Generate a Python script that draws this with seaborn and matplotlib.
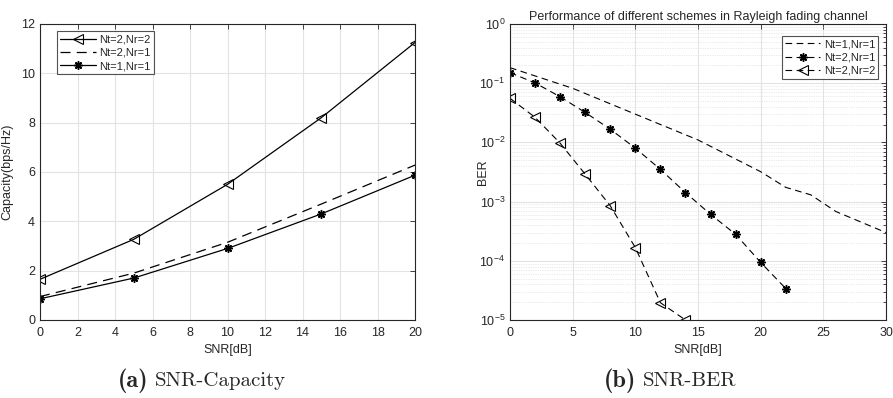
import numpy as np
import pandas as pd
import matplotlib
matplotlib.use("Agg")
import matplotlib.pyplot as plt
import seaborn as sns

# capacity data (left panel)
snr_cap = [0, 5, 10, 15, 20]
cap_22 = [1.65, 3.27, 5.50, 8.20, 11.25]
cap_21 = [0.95, 1.90, 3.15, 4.70, 6.28]
cap_11 = [0.86, 1.70, 2.90, 4.30, 5.87]

# BER data (right panel)
snr_ber_11 = [0, 5, 10, 15, 20, 22, 24, 25, 26, 30]
ber_11 = [0.183, 0.082, 0.030, 0.011, 3.2e-3, 1.74e-3, 1.3e-3, 9.4e-4, 6.8e-4, 3.0e-4]
snr_ber_21 = [0, 2, 4, 6, 8, 10, 12, 14, 16, 18, 20, 22]
ber_21 = [0.151, 0.101, 0.059, 0.032, 0.0167, 0.008, 3.5e-3, 1.42e-3, 6.1e-4, 2.8e-4, 9.4e-5, 3.4e-5]
snr_ber_22 = [0, 2, 4, 6, 8, 10, 12, 14]
ber_22 = [0.0556, 0.0265, 0.0097, 2.9e-3, 8.5e-4, 1.67e-4, 1.96e-5, 1.0e-5]

sns.set_style("white")
plt.rcParams["font.family"] = ["Liberation Sans", "DejaVu Sans"]
plt.rcParams["mathtext.fontset"] = "custom"
plt.rcParams["mathtext.rm"] = "Liberation Sans"

tick_col = "#262626"
fs = 9
star = (8, 2, 0)   # asterisk-like marker, like matlab '*'

fig = plt.figure(figsize=(8.93, 3.98), dpi=100)
W, H = 893, 398
ax1 = fig.add_axes([40 / W, 1 - 320 / H, 375 / W, 296 / H])
ax2 = fig.add_axes([510 / W, 1 - 320 / H, 376 / W, 296 / H])


def style_axes(ax):
    for s in ax.spines.values():
        s.set_color(tick_col)
        s.set_linewidth(0.8)
    ax.tick_params(which="both", direction="in", top=True, right=True,
                   colors=tick_col, labelsize=fs, width=0.6)
    ax.tick_params(which="major", length=3.5)
    ax.tick_params(which="minor", length=2)
    ax.tick_params(axis="x", pad=5)


# left panel
df_cap = pd.DataFrame({"snr": snr_cap, "c22": cap_22, "c21": cap_21, "c11": cap_11})
sns.lineplot(data=df_cap, x="snr", y="c22", ax=ax1, color="black", lw=0.9,
             marker="<", markersize=6.5, markerfacecolor="none",
             markeredgecolor="black", markeredgewidth=0.8, label="Nt=2,Nr=2")
sns.lineplot(data=df_cap, x="snr", y="c21", ax=ax1, color="black", lw=0.9,
             linestyle=(0, (8, 5)), label="Nt=2,Nr=1")
sns.lineplot(data=df_cap, x="snr", y="c11", ax=ax1, color="black", lw=0.9,
             marker=star, markersize=6, markeredgecolor="black",
             markeredgewidth=1.1, label="Nt=1,Nr=1")
ax1.set_xlim(0, 20)
ax1.set_ylim(0, 12)
ax1.set_xticks(range(0, 21, 2))
ax1.set_yticks(range(0, 13, 2))
ax1.grid(True, color="#e3e3e3", lw=0.8)
ax1.set_xlabel("SNR[dB]", fontsize=fs, color=tick_col)
ax1.set_ylabel("Capacity(bps/Hz)", fontsize=fs, color=tick_col)
ax1.xaxis.set_label_coords(0.5, -0.08)
ax1.yaxis.set_label_coords(-0.072, 0.5)
style_axes(ax1)
leg1 = ax1.legend(loc="upper left", bbox_to_anchor=(0.045, 0.976), fontsize=8,
                  frameon=True, fancybox=False, edgecolor=tick_col,
                  handlelength=3.2, borderpad=0.3, labelspacing=0.3,
                  handletextpad=0.3, borderaxespad=0)
leg1.get_frame().set_linewidth(0.8)

# right panel
df11 = pd.DataFrame({"snr": snr_ber_11, "ber": ber_11})
df21 = pd.DataFrame({"snr": snr_ber_21, "ber": ber_21})
df22 = pd.DataFrame({"snr": snr_ber_22, "ber": ber_22})
sns.lineplot(data=df11, x="snr", y="ber", ax=ax2, color="black", lw=0.8,
             linestyle=(0, (6, 4)), label="Nt=1,Nr=1")
sns.lineplot(data=df21, x="snr", y="ber", ax=ax2, color="black", lw=0.8,
             linestyle=(0, (6, 4)), marker=star, markersize=6,
             markeredgecolor="black", markeredgewidth=1.1, label="Nt=2,Nr=1")
sns.lineplot(data=df22, x="snr", y="ber", ax=ax2, color="black", lw=0.8,
             linestyle=(0, (6, 4)), marker="<", markersize=6.5,
             markerfacecolor="none", markeredgecolor="black",
             markeredgewidth=0.8, label="Nt=2,Nr=2")
ax2.set_yscale("log")
ax2.set_xlim(0, 30)
ax2.set_ylim(1e-5, 1)
ax2.set_xticks(range(0, 31, 5))
ax2.grid(True, which="major", color="#e3e3e3", lw=0.8)
ax2.grid(True, which="minor", axis="y", color="#d8d8d8", lw=0.5, linestyle=(0, (1, 1.5)))
ax2.set_xlabel("SNR[dB]", fontsize=fs, color=tick_col)
ax2.set_ylabel("BER", fontsize=fs, color=tick_col)
ax2.xaxis.set_label_coords(0.5, -0.08)
ax2.yaxis.set_label_coords(-0.057, 0.5)
ax2.set_title("Performance of different schemes in Rayleigh fading channel",
              fontsize=fs, color=tick_col, pad=3)
style_axes(ax2)
leg2 = ax2.legend(loc="upper right", bbox_to_anchor=(0.98, 0.96), fontsize=8,
                  frameon=True, fancybox=False, edgecolor=tick_col,
                  handlelength=3.2, borderpad=0.3, labelspacing=0.3,
                  handletextpad=0.3, borderaxespad=0)
leg2.get_frame().set_linewidth(0.8)

# sub-captions, computer-modern look
cap_y = 1 - 381 / H
fig.text(148 / W, cap_y, "(a)", fontsize=17.5, ha="right", va="center",
         family="cmb10")
fig.text(155 / W, cap_y, "SNR-Capacity", fontsize=15, ha="left", va="center",
         family="cmr10")
fig.text(636 / W, cap_y, "(b)", fontsize=17.5, ha="right", va="center",
         family="cmb10")
fig.text(643 / W, cap_y, "SNR-BER", fontsize=15, ha="left", va="center",
         family="cmr10")

fig.savefig("out.png", dpi=100)
